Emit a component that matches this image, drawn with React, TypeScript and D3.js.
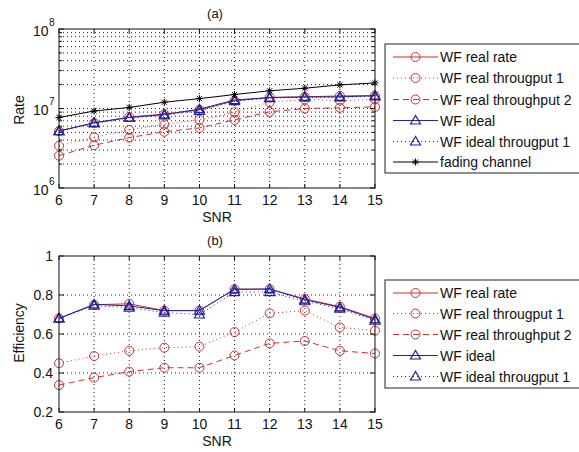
import React from "react";
import * as d3 from "d3";

// SNR values (dB) shared by both panels
const snr = [6, 7, 8, 9, 10, 11, 12, 13, 14, 15];

// (a) achievable rate
const rateRealRate = [5.2e6, 6.6e6, 7.8e6, 8.5e6, 9.6e6, 1.25e7, 1.38e7, 1.4e7, 1.44e7, 1.45e7];
const rateRealTp1 = [3.4e6, 4.35e6, 5.37e6, 6.3e6, 7.2e6, 9.0e6, 1.2e7, 1.3e7, 1.26e7, 1.3e7];
const rateRealTp2 = [2.55e6, 3.45e6, 4.3e6, 5.1e6, 5.7e6, 7.2e6, 9.1e6, 1.0e7, 1.02e7, 1.05e7];
const rateIdeal = [5.2e6, 6.6e6, 7.7e6, 8.4e6, 9.8e6, 1.28e7, 1.37e7, 1.4e7, 1.4e7, 1.45e7];
const rateIdealTp1 = [5.2e6, 6.5e6, 7.6e6, 8.2e6, 9.3e6, 1.24e7, 1.35e7, 1.38e7, 1.38e7, 1.42e7];
const rateFading = [7.7e6, 9.3e6, 1.03e7, 1.2e7, 1.33e7, 1.5e7, 1.67e7, 1.8e7, 1.98e7, 2.1e7];

// (b) efficiency
const effRealRate = [0.68, 0.75, 0.755, 0.72, 0.72, 0.83, 0.83, 0.78, 0.74, 0.68];
const effRealTp1 = [0.45, 0.487, 0.514, 0.53, 0.535, 0.61, 0.706, 0.72, 0.634, 0.617];
const effRealTp2 = [0.338, 0.376, 0.407, 0.427, 0.427, 0.49, 0.552, 0.564, 0.514, 0.5];
const effIdeal = [0.68, 0.752, 0.744, 0.72, 0.72, 0.829, 0.831, 0.776, 0.737, 0.675];
const effIdealTp1 = [0.68, 0.745, 0.735, 0.71, 0.70, 0.815, 0.815, 0.768, 0.73, 0.668];

const legendA = [
  "WF real rate",
  "WF real througput 1",
  "WF real throughput 2",
  "WF ideal",
  "WF ideal througput 1",
  "fading channel",
];
const legendB = legendA.slice(0, 5);

const RED = "#cc2f2f";
const BLUE = "#23239c";
const BLACK = "#000";
const FONT = "'Liberation Sans', Arial, Helvetica, sans-serif";

type Marker = "circle" | "triangle" | "star";
type Style = { color: string; dash: string | null; marker: Marker };

const styles: Style[] = [
  { color: RED, dash: null, marker: "circle" },
  { color: RED, dash: "1,3", marker: "circle" },
  { color: RED, dash: "6,4", marker: "circle" },
  { color: BLUE, dash: null, marker: "triangle" },
  { color: BLUE, dash: "1,3", marker: "triangle" },
  { color: BLACK, dash: null, marker: "star" },
];

function MarkerShape({ x, y, s }: { x: number; y: number; s: Style }) {
  if (s.marker === "circle") {
    return <circle cx={x} cy={y} r={4.5} fill="none" stroke={s.color} strokeWidth={1} />;
  }
  if (s.marker === "triangle") {
    const r = 5;
    const pts = `${x},${y - r} ${x - r},${y + r * 0.7} ${x + r},${y + r * 0.7}`;
    return <polygon points={pts} fill="none" stroke={s.color} strokeWidth={1.2} />;
  }
  const r = 3.5;
  const d = r * 0.72;
  return (
    <g stroke={s.color} strokeWidth={1}>
      <line x1={x - r} y1={y} x2={x + r} y2={y} />
      <line x1={x} y1={y - r} x2={x} y2={y + r} />
      <line x1={x - d} y1={y - d} x2={x + d} y2={y + d} />
      <line x1={x - d} y1={y + d} x2={x + d} y2={y - d} />
    </g>
  );
}

const xScale = d3.scaleLinear().domain([6, 15]).range([59, 375]);

function Series({ values, yScale, s }: { values: number[]; yScale: (v: number) => number; s: Style }) {
  const line = d3
    .line<number>()
    .x((_, i) => xScale(snr[i]))
    .y((v) => yScale(v));
  return (
    <g>
      <path d={line(values) || ""} fill="none" stroke={s.color} strokeWidth={1} strokeDasharray={s.dash || undefined} />
      {values.map((v, i) => (
        <MarkerShape key={i} x={xScale(snr[i])} y={yScale(v)} s={s} />
      ))}
    </g>
  );
}

function Legend({ x, y, w, h, labels, rowY }: { x: number; y: number; w: number; h: number; labels: string[]; rowY: number[] }) {
  return (
    <g>
      <rect x={x} y={y} width={w} height={h} fill="#fff" stroke="#222" strokeWidth={1} />
      {labels.map((lab, i) => {
        const s = styles[i];
        const ly = rowY[i];
        return (
          <g key={lab}>
            <line x1={393} x2={438} y1={ly} y2={ly} stroke={s.color} strokeWidth={1} strokeDasharray={s.dash || undefined} />
            <MarkerShape x={415.5} y={ly} s={s} />
            <text x={440} y={ly + 5} fontSize={14} fontFamily={FONT} fill="#111">
              {lab}
            </text>
          </g>
        );
      })}
    </g>
  );
}

export default function App() {
  const left = 59;
  const right = 375;

  // panel (a): log scale
  const yA = d3.scaleLog().domain([1e6, 1e8]).range([188, 29]);
  const topA = 29;
  const botA = 188;
  const logTicks = yA.ticks(); // 1e6..1e8 with minors
  const majorA = [1e6, 1e7, 1e8];

  // panel (b)
  const yB = d3.scaleLinear().domain([0.2, 1]).range([412, 256]);
  const topB = 256;
  const botB = 412;
  const ticksB = [0.2, 0.4, 0.6, 0.8, 1];

  const gridStyle = { stroke: "#222", strokeWidth: 1, strokeDasharray: "1,3" };

  const dataA = [rateRealRate, rateRealTp1, rateRealTp2, rateIdeal, rateIdealTp1, rateFading];
  const dataB = [effRealRate, effRealTp1, effRealTp2, effIdeal, effIdealTp1];

  return (
    <svg width={579} height={452} style={{ position: "absolute", left: 0, top: 0, background: "#fff" }} fontFamily={FONT}>
      <rect width={579} height={452} fill="#fff" />

      {/* ---------- panel (a) ---------- */}
      <text x={215} y={18} fontSize={13} textAnchor="middle" fill="#111">(a)</text>
      <g>
        {snr.slice(1, -1).map((v) => (
          <line key={v} x1={xScale(v)} x2={xScale(v)} y1={topA} y2={botA} {...gridStyle} />
        ))}
        {logTicks
          .filter((t) => t > 1e6 && t < 1e8)
          .map((t) => (
            <line key={t} x1={left} x2={right} y1={yA(t)} y2={yA(t)} {...gridStyle} />
          ))}
        {dataA.map((d, i) => (
          <Series key={i} values={d} yScale={yA} s={styles[i]} />
        ))}
        <rect x={left} y={topA} width={right - left} height={botA - topA} fill="none" stroke="#111" strokeWidth={1} />
        {logTicks.map((t) => {
          const major = majorA.includes(t);
          const len = major ? 5 : 3;
          return (
            <g key={t}>
              <line x1={left} x2={left + len} y1={yA(t)} y2={yA(t)} stroke="#111" />
              <line x1={right} x2={right - len} y1={yA(t)} y2={yA(t)} stroke="#111" />
            </g>
          );
        })}
        {snr.map((v) => (
          <g key={v}>
            <line x1={xScale(v)} x2={xScale(v)} y1={botA} y2={botA - 4} stroke="#111" />
            <line x1={xScale(v)} x2={xScale(v)} y1={topA} y2={topA + 4} stroke="#111" />
            <text x={xScale(v)} y={205} fontSize={14} textAnchor="middle" fill="#111">{v}</text>
          </g>
        ))}
        {majorA.map((t) => (
          <g key={t}>
            <text x={48.5} y={yA(t) + 6.5} fontSize={14} textAnchor="end" fill="#111">10</text>
            <text x={49} y={yA(t) - 3.5} fontSize={10} fill="#111">{Math.round(Math.log10(t))}</text>
          </g>
        ))}
        <text x={217} y={222} fontSize={14} textAnchor="middle" fill="#111">SNR</text>
        <text transform={`translate(24,110) rotate(-90)`} fontSize={14} textAnchor="middle" fill="#111">Rate</text>
      </g>
      <Legend x={385} y={44} w={200} h={129} labels={legendA} rowY={[57, 78, 99.5, 120.5, 141.5, 162]} />

      {/* ---------- panel (b) ---------- */}
      <text x={215} y={245} fontSize={13} textAnchor="middle" fill="#111">(b)</text>
      <g>
        {snr.slice(1, -1).map((v) => (
          <line key={v} x1={xScale(v)} x2={xScale(v)} y1={topB} y2={botB} {...gridStyle} />
        ))}
        {ticksB.slice(1, -1).map((t) => (
          <line key={t} x1={left} x2={right} y1={yB(t)} y2={yB(t)} {...gridStyle} />
        ))}
        {dataB.map((d, i) => (
          <Series key={i} values={d} yScale={yB} s={styles[i]} />
        ))}
        <rect x={left} y={topB} width={right - left} height={botB - topB} fill="none" stroke="#111" strokeWidth={1} />
        {ticksB.map((t) => (
          <g key={t}>
            <line x1={left} x2={left + 5} y1={yB(t)} y2={yB(t)} stroke="#111" />
            <line x1={right} x2={right - 5} y1={yB(t)} y2={yB(t)} stroke="#111" />
            <text x={53} y={yB(t) + 5} fontSize={14} textAnchor="end" fill="#111">{t === 1 ? "1" : t.toFixed(1)}</text>
          </g>
        ))}
        {snr.map((v) => (
          <g key={v}>
            <line x1={xScale(v)} x2={xScale(v)} y1={botB} y2={botB - 4} stroke="#111" />
            <line x1={xScale(v)} x2={xScale(v)} y1={topB} y2={topB + 4} stroke="#111" />
            <text x={xScale(v)} y={429} fontSize={14} textAnchor="middle" fill="#111">{v}</text>
          </g>
        ))}
        <text x={217} y={446} fontSize={14} textAnchor="middle" fill="#111">SNR</text>
        <text transform={`translate(24,333) rotate(-90)`} fontSize={14} textAnchor="middle" fill="#111">Efficiency</text>
      </g>
      <Legend x={385} y={280} w={200} h={108} labels={legendB} rowY={[293, 313.5, 334.5, 355.5, 376.5]} />
    </svg>
  );
}
